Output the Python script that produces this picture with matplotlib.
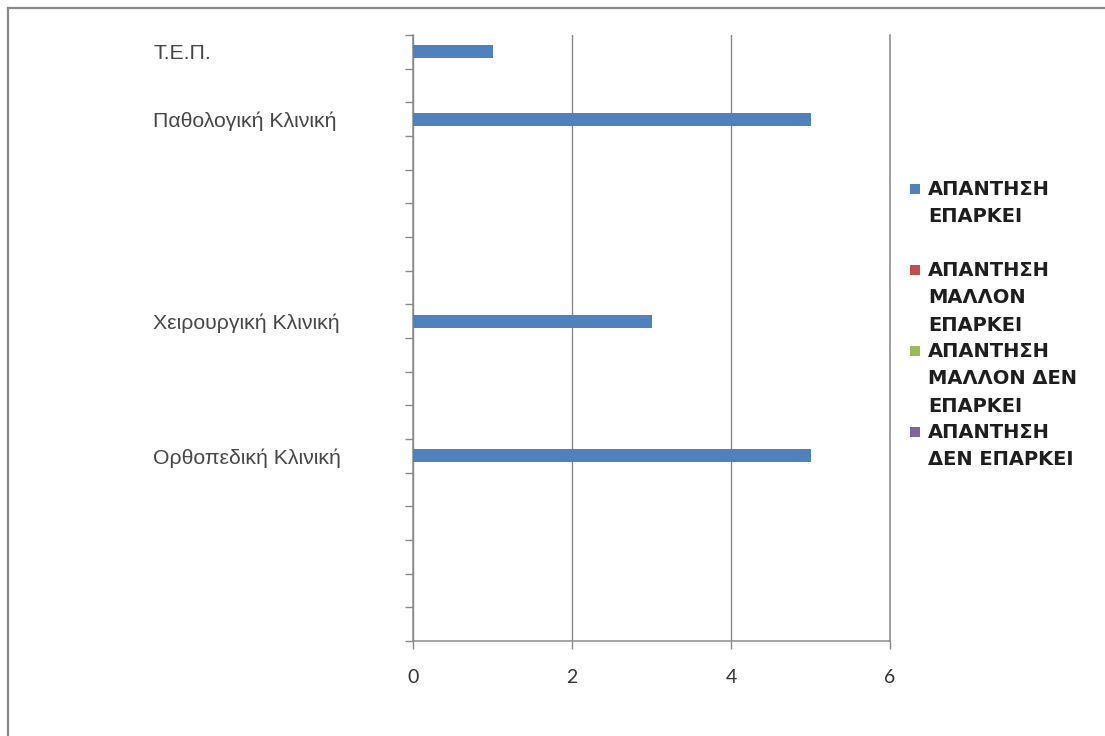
import matplotlib
matplotlib.use("Agg")
import matplotlib.pyplot as plt
from matplotlib.patches import Rectangle
from matplotlib.lines import Line2D
from matplotlib.ticker import FixedLocator
import numpy as np

# ---- data ----
categories = ["Τ.Ε.Π.", "", "Παθολογική Κλινική", "", "", "", "", "",
              "Χειρουργική Κλινική", "", "", "", "Ορθοπεδική Κλινική",
              "", "", "", "", ""]
series_names = ["ΑΠΑΝΤΗΣΗ\nΕΠΑΡΚΕΙ",
                "ΑΠΑΝΤΗΣΗ\nΜΑΛΛΟΝ\nΕΠΑΡΚΕΙ",
                "ΑΠΑΝΤΗΣΗ\nΜΑΛΛΟΝ ΔΕΝ\nΕΠΑΡΚΕΙ",
                "ΑΠΑΝΤΗΣΗ\nΔΕΝ ΕΠΑΡΚΕΙ"]
epar = [1, 0, 5, 0, 0, 0, 0, 0, 3, 0, 0, 0, 5, 0, 0, 0, 0, 0]
mallon_epar = [0] * 18
mallon_den = [0] * 18
den_epar = [0] * 18
series_values = [epar, mallon_epar, mallon_den, den_epar]
series_colors = ["#4F81BD", "#C0504D", "#9BBB59", "#8064A2"]
xticks = [0, 2, 4, 6]

W, H = 1105, 736
fig = plt.figure(figsize=(W / 100, H / 100), dpi=100)
fig.patch.set_facecolor("white")

def fx(px):
    return px / W

def fy(py):
    return 1 - py / H

ax = fig.add_axes([fx(413), fy(641), fx(890) - fx(413), fy(35) - fy(641)])

y = np.arange(len(categories))
for vals, col in zip(series_values, series_colors):
    v = np.array(vals, dtype=float)
    ax.barh(y, v, height=0.39, color=col, linewidth=0, zorder=3)

ax.set_xlim(0, 6)
ax.set_ylim(len(categories) - 0.5, -0.5)

grid_col = "#8A8A8A"
ax.set_xticks(xticks)
ax.set_xticklabels([str(t) for t in xticks])
ax.xaxis.grid(True, color=grid_col, linewidth=1.0, zorder=0)
ax.tick_params(axis="x", direction="out", length=6, width=1.0, color=grid_col,
               pad=14, labelsize=14, labelcolor="#333333")
for lab in ax.get_xticklabels():
    lab.set_fontfamily("Lato")

ax.set_yticks(y)
ax.set_yticklabels(categories)
ax.yaxis.set_minor_locator(FixedLocator(np.arange(-0.5, len(categories), 1.0)))
ax.tick_params(axis="y", which="major", length=0, pad=187,
               labelsize=15.3, labelcolor="#474747")
ax.tick_params(axis="y", which="minor", direction="out", length=6, width=1.0,
               color=grid_col)
for lab in ax.get_yticklabels():
    lab.set_ha("left")
    lab.set_fontfamily("Liberation Sans")

ax.spines["top"].set_visible(False)
for s in ["left", "bottom", "right"]:
    ax.spines[s].set_color(grid_col)
    ax.spines[s].set_linewidth(1.1)
ax.set_facecolor("white")

# ---- legend (manual, Excel-like) ----
entry_top = 189
slot = 81
for i, (name, col) in enumerate(zip(series_names, series_colors)):
    cy = entry_top + i * slot
    sq = 10
    fig.add_artist(Rectangle((fx(910), fy(cy + sq / 2)), fx(sq), sq / H,
                             transform=fig.transFigure, facecolor=col,
                             edgecolor="none"))
    fig.text(fx(928), fy(cy - 9), name, ha="left", va="top",
             fontsize=14, fontweight="bold", family="DejaVu Sans",
             color="#1e1e1e", linespacing=1.55)

# ---- outer border (top and left) ----
fig.add_artist(Line2D([fx(8), 1], [fy(8), fy(8)], transform=fig.transFigure,
                      color="#8A8A8A", linewidth=1.6))
fig.add_artist(Line2D([fx(8), fx(8)], [fy(8), 0], transform=fig.transFigure,
                      color="#8A8A8A", linewidth=1.6))

fig.savefig("out.png", dpi=100)
